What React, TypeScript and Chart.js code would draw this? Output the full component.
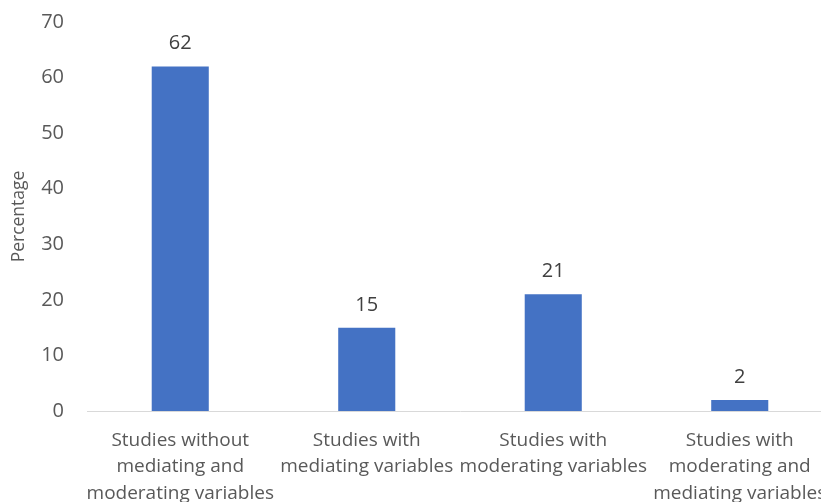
import React, { useEffect, useRef } from "react";
import { Chart, registerables } from "chart.js";

Chart.register(...registerables);

const categories: string[][] = [
  ["Studies without", "mediating and", "moderating variables"],
  ["Studies with", "mediating variables"],
  ["Studies with", "moderating variables"],
  ["Studies with", "moderating and", "mediating variables"],
];
const percentages: number[] = [62, 15, 21, 2];
const yTicksMax = 70;
const yStep = 10;
const yTitle = "Percentage";

const W = 845;
const H = 520;
const PLOT_LEFT = 87;
const PLOT_BOTTOM = 411;

const valueLabels = {
  id: "valueLabels",
  afterDatasetsDraw(chart: any) {
    const ctx = chart.ctx;
    const meta = chart.getDatasetMeta(0);
    ctx.save();
    ctx.font = "20px 'Open Sans'";
    ctx.fillStyle = "#404040";
    ctx.textAlign = "center";
    ctx.textBaseline = "alphabetic";
    meta.data.forEach((bar: any, i: number) => {
      ctx.fillText(String(percentages[i]), bar.x, bar.y - 17);
    });
    ctx.restore();
  },
};

export default function App() {
  const ref = useRef<HTMLCanvasElement>(null);
  useEffect(() => {
    if (!ref.current) return;
    const chart = new Chart(ref.current, {
      type: "bar",
      data: {
        labels: categories,
        datasets: [
          {
            data: percentages,
            backgroundColor: "#4472C4",
            categoryPercentage: 1,
            barPercentage: 0.306,
          },
        ],
      },
      options: {
        responsive: false,
        animation: false,
        layout: { padding: { top: 22, right: 12, left: 0, bottom: 0 } },
        plugins: { legend: { display: false }, tooltip: { enabled: false } },
        scales: {
          x: {
            grid: { display: false, drawTicks: false },
            border: { display: true, color: "#d9d9d9", width: 1 },
            ticks: {
              color: "#595959",
              font: { family: "'Open Sans'", size: 19, lineHeight: 1.4 },
              padding: 16,
              maxRotation: 0,
              autoSkip: false,
            },
            afterFit: (s: any) => {
              s.height = H - PLOT_BOTTOM;
            },
          },
          y: {
            min: 0,
            max: yTicksMax,
            grid: { display: false, drawTicks: false },
            border: { display: false },
            ticks: {
              stepSize: yStep,
              color: "#595959",
              font: { family: "'Open Sans'", size: 20 },
              padding: 23,
            },
            title: {
              display: true,
              text: yTitle,
              color: "#595959",
              font: { family: "'Open Sans'", size: 17.5 },
              padding: { top: 9, bottom: 0 },
            },
            afterFit: (s: any) => {
              s.width = PLOT_LEFT;
              s.paddingTop = 12;
              s.paddingBottom = 0;
            },
          },
        },
      },
      plugins: [valueLabels],
    });
    return () => chart.destroy();
  }, []);
  return (
    <div
      style={{
        position: "absolute",
        left: 0,
        top: 0,
        width: 821,
        height: 502,
        overflow: "hidden",
        background: "#fff",
      }}
    >
      <canvas ref={ref} width={W} height={H} style={{ display: "block" }} />
    </div>
  );
}
